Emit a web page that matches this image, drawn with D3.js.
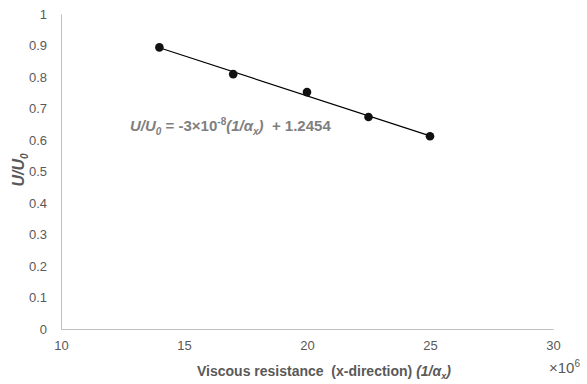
<!DOCTYPE html>
<html>
<head>
<meta charset="utf-8">
<script src="https://cdn.jsdelivr.net/npm/d3@7/dist/d3.min.js"></script>
<style>
  html, body { margin: 0; padding: 0; background: #fff; }
  text { font-family: "Liberation Sans", Arial, sans-serif; }
</style>
</head>
<body>
<svg id="chart" width="587" height="384"></svg>
<script>
// Viscous resistance (×10^6) against normalised velocity
const resistance = [14, 17, 20, 22.5, 25];
const velocityRatio = [0.894, 0.809, 0.752, 0.673, 0.612];
const xTicks = [10, 15, 20, 25, 30];
const yTicks = [0, 0.1, 0.2, 0.3, 0.4, 0.5, 0.6, 0.7, 0.8, 0.9, 1];

const svg = d3.select("#chart");
const margin = { left: 61, right: 34, top: 14, bottom: 55 };
const W = 587, H = 384;

const x = d3.scaleLinear().domain([10, 30]).range([margin.left, W - margin.right]);
const y = d3.scaleLinear().domain([0, 1]).range([H - margin.bottom, margin.top]);

const tickColor = "#595959";
const axisColor = "#bfbfbf";

// y axis
const yAxis = svg.append("g")
  .attr("transform", `translate(${margin.left},0)`)
  .call(d3.axisLeft(y).tickValues(yTicks).tickSize(0).tickPadding(14)
    .tickFormat(d => d3.format("")(+d.toFixed(1))));
yAxis.select(".domain").attr("stroke", axisColor);
yAxis.selectAll("text").attr("fill", tickColor).style("font-size", "13px")
  .style("font-family", "Liberation Sans, Arial, sans-serif");

// x axis
const xAxis = svg.append("g")
  .attr("transform", `translate(0,${y(0)})`)
  .call(d3.axisBottom(x).tickValues(xTicks).tickSize(0).tickPadding(12));
xAxis.select(".domain").attr("stroke", axisColor);
xAxis.selectAll("text").attr("fill", tickColor).style("font-size", "13px")
  .style("font-family", "Liberation Sans, Arial, sans-serif");

// least-squares trend line over the data
const mx = d3.mean(resistance), my = d3.mean(velocityRatio);
const sxy = d3.sum(resistance, (v, i) => (v - mx) * (velocityRatio[i] - my));
const sxx = d3.sum(resistance, v => (v - mx) * (v - mx));
const slope = sxy / sxx, intercept = my - slope * mx;
const xEnds = d3.extent(resistance);
svg.append("line")
  .attr("x1", x(xEnds[0])).attr("y1", y(slope * xEnds[0] + intercept))
  .attr("x2", x(xEnds[1])).attr("y2", y(slope * xEnds[1] + intercept))
  .attr("stroke", "#000").attr("stroke-width", 1.2);

// markers
svg.append("g").selectAll("circle")
  .data(resistance.map((r, i) => [r, velocityRatio[i]]))
  .join("circle")
  .attr("cx", d => x(d[0])).attr("cy", d => y(d[1]))
  .attr("r", 4.3).attr("fill", "#111");

// equation label
const eq = svg.append("text")
  .attr("x", 130).attr("y", 131)
  .attr("fill", "#7f7f7f").style("font-size", "15px").style("font-weight", "bold");
eq.append("tspan").style("font-style", "italic").text("U/U");
eq.append("tspan").style("font-style", "italic").style("font-size", "10px").attr("dy", 4).text("0");
eq.append("tspan").attr("dy", -4).text(" = -3×10");
eq.append("tspan").style("font-size", "10px").attr("dy", -6).text("-8");
eq.append("tspan").style("font-style", "italic").attr("dy", 6).text("(1/α");
eq.append("tspan").style("font-style", "italic").style("font-size", "10px").attr("dy", 4).text("x");
eq.append("tspan").style("font-style", "italic").attr("dy", -4).text(")");
eq.append("tspan").attr("xml:space", "preserve").text("  + 1.2454");

// x axis title
const xt = svg.append("text")
  .attr("x", 197).attr("y", 376)
  .attr("fill", tickColor).style("font-size", "14px").style("font-weight", "bold");
xt.append("tspan").attr("xml:space", "preserve").text("Viscous resistance  (x-direction) ");
xt.append("tspan").style("font-style", "italic").text("(1/α");
xt.append("tspan").style("font-style", "italic").style("font-size", "9px").attr("dy", 3).text("x");
xt.append("tspan").style("font-style", "italic").attr("dy", -3).text(")");

// x axis multiplier
const mult = svg.append("text")
  .attr("x", 549).attr("y", 373)
  .attr("fill", tickColor).style("font-size", "15px");
mult.append("tspan").text("×10");
mult.append("tspan").style("font-size", "10px").attr("dy", -6).text("6");

// y axis title
const yt = svg.append("text")
  .attr("transform", "translate(24,170) rotate(-90)")
  .attr("text-anchor", "middle")
  .attr("fill", tickColor).style("font-size", "16px")
  .style("font-weight", "bold").style("font-style", "italic");
yt.append("tspan").text("U/U");
yt.append("tspan").style("font-size", "10px").attr("dy", 4).text("0");
</script>
</body>
</html>
